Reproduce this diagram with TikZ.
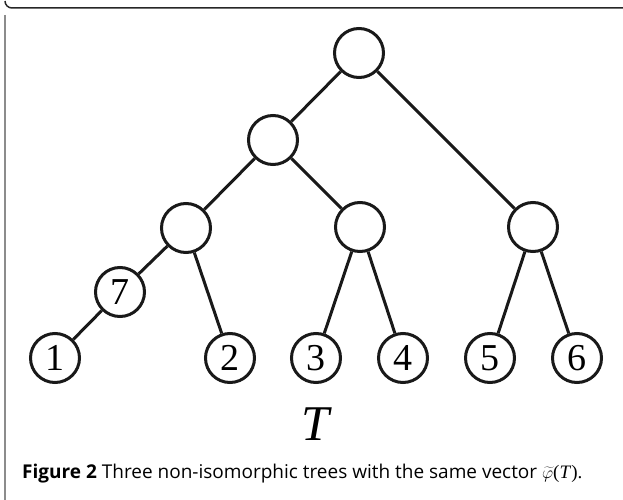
\documentclass[tikz,border=0pt]{standalone}
\usepackage{fontspec}
\setmainfont{Liberation Serif}
\newfontfamily\capfont{Open Sans}
\begin{document}
\begin{tikzpicture}[x=1pt,y=-1pt,
  vtx/.style={circle,draw=black!90,line width=3pt,minimum size=49pt,inner sep=0pt,font=\fontsize{38}{38}\selectfont},
  edge/.style={line width=3pt,draw=black!90}]
\useasboundingbox (0,0) rectangle (623,500);
% frame
\draw[line width=1.5pt,black!85] (623,8) -- (12,8) arc[start angle=90,end angle=180,radius=7];
\draw[line width=1.5pt,black!45] (5,15) -- (5,500);
% nodes
\node[vtx] (r) at (359,53) {};
\node[vtx] (a) at (273,140) {};
\node[vtx] (b) at (186,228) {};
\node[vtx] (c) at (360,227) {};
\node[vtx] (d) at (533,227) {};
\node[vtx] (n7) at (120,292) {7};
\node[vtx] (n1) at (55,358) {1};
\node[vtx] (n2) at (230,358) {2};
\node[vtx] (n3) at (316,358) {3};
\node[vtx] (n4) at (403,358) {4};
\node[vtx] (n5) at (490,358) {5};
\node[vtx] (n6) at (577,358) {6};
% edges
\draw[edge] (r) -- (a);
\draw[edge] (r) -- (d);
\draw[edge] (a) -- (b);
\draw[edge] (a) -- (c);
\draw[edge] (b) -- (n7);
\draw[edge] (b) -- (n2);
\draw[edge] (n7) -- (n1);
\draw[edge] (c) -- (n3);
\draw[edge] (c) -- (n4);
\draw[edge] (d) -- (n5);
\draw[edge] (d) -- (n6);
% label
\node[anchor=base,font=\fontsize{50}{50}\selectfont\itshape] (tl) at (315,440) {T};
\node[anchor=base west,inner sep=0pt,font=\capfont\fontsize{19}{20}\selectfont] (cap) at (22,478)
  {\textbf{Figure 2} Three non-isomorphic trees with the same vector $\widetilde{\varphi}$\rmfamily(\textit{T}).};
\end{tikzpicture}
\end{document}
